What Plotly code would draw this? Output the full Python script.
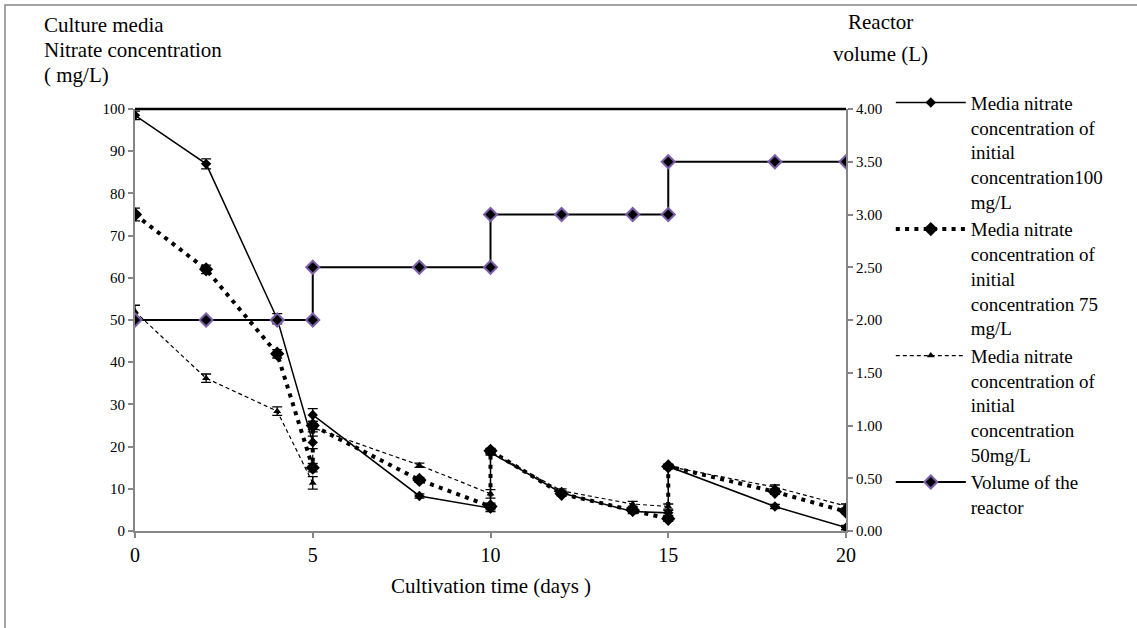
import plotly.graph_objects as go

days = [0, 2, 4, 5, 5, 8, 10, 10, 12, 14, 15, 15, 18, 20]
nitrate_100 = [98.5, 87, 50.3, 21, 27.5, 8.3, 5.4, 18.6, 9.0, 4.6, 4.3, 15.3, 5.8, 0.8]
nitrate_75 = [75, 62, 42, 15, 25, 12.1, 5.8, 19.0, 8.8, 5.0, 2.9, 15.3, 9.3, 4.6]
nitrate_50 = [52, 36.2, 28.4, 11.4, 24.5, 15.6, 8.8, 18.8, 9.5, 6.4, 5.8, 15.3, 10.4, 5.9]
err_100 = [1.0, 1.2, 1.2, 1.5, 1.5, 0.5, 0.8, 0.6, 0.5, 0.5, 0.6, 0.5, 0.5, 0.5]
err_75 = [1.5, 1.0, 1.0, 1.0, 1.0, 0.6, 0.8, 0.6, 0.5, 0.5, 0.6, 0.5, 0.6, 0.5]
err_50 = [1.5, 1.0, 1.0, 1.5, 1.0, 0.5, 1.0, 0.6, 0.5, 0.6, 0.6, 0.5, 0.5, 0.5]
volume = [2.0, 2.0, 2.0, 2.0, 2.5, 2.5, 2.5, 3.0, 3.0, 3.0, 3.0, 3.5, 3.5, 3.5]

left_ticks = list(range(0, 101, 10))
right_ticks = [0, 0.5, 1.0, 1.5, 2.0, 2.5, 3.0, 3.5, 4.0]
x_ticks = [0, 5, 10, 15, 20]

names = [
    "Media nitrate<br>concentration of<br>initial<br>concentration100<br>mg/L",
    "Media nitrate<br>concentration of<br>initial<br>concentration 75<br>mg/L",
    "Media nitrate<br>concentration of<br>initial<br>concentration<br>50mg/L",
    "Volume of the<br>reactor",
]
left_title_lines = ["Culture media", "Nitrate concentration", "( mg/L)"]
right_title_lines = ["Reactor", "volume (L)"]
x_title = "Cultivation time (days )"

FONT = "Liberation Serif"
GRAY = "#868686"
PURPLE = "#7b5ea7"

fig = go.Figure()

def eb(arr):
    return dict(type="data", array=arr, visible=True, color="black", thickness=1.3, width=5)

fig.add_trace(go.Scatter(
    x=days, y=nitrate_100, name=names[0], mode="lines+markers",
    line=dict(color="black", width=1.5),
    marker=dict(symbol="diamond", size=8, color="black"),
    error_y=eb(err_100),
))
fig.add_trace(go.Scatter(
    x=days, y=nitrate_75, name=names[1], mode="lines+markers",
    line=dict(color="black", width=4, dash="4px,5.3px"),
    marker=dict(symbol="diamond", size=11, color="black"),
    error_y=eb(err_75),
))
fig.add_trace(go.Scatter(
    x=days, y=nitrate_50, name=names[2], mode="lines+markers",
    line=dict(color="black", width=1.2, dash="4px,3px"),
    marker=dict(symbol="triangle-up", size=7, color="black"),
    error_y=eb(err_50),
))
fig.add_trace(go.Scatter(
    x=days, y=volume, name=names[3], mode="lines+markers", yaxis="y2",
    line=dict(color="black", width=2),
    marker=dict(symbol="diamond", size=10, color="black", line=dict(color=PURPLE, width=2)),
))

# plot area: left 135, right 846, top 109, bottom 531 (px)
L, R, T, B = 135, 846, 109, 531
def px_x(p):
    return (p - L) / (R - L)
def px_y(p):
    return (B - p) / (B - T)

annotations = []
for i, t in enumerate(left_title_lines):
    annotations.append(dict(text=t, xref="paper", yref="paper", x=px_x(42), y=px_y(25 + 25 * i),
                            xanchor="left", yanchor="middle", align="left", showarrow=False,
                            font=dict(family=FONT, size=21)))
for t, yy in zip(right_title_lines, [22, 54]):
    annotations.append(dict(text=t, xref="paper", yref="paper", x=px_x(880), y=px_y(yy),
                            xanchor="center", yanchor="middle", align="center", showarrow=False,
                            font=dict(family=FONT, size=21)))
annotations.append(dict(text=x_title, xref="paper", yref="paper", x=0.5, y=px_y(586),
                        xanchor="center", yanchor="middle", showarrow=False,
                        font=dict(family=FONT, size=21)))

fig.update_layout(
    width=1137, height=628,
    margin=dict(l=L, r=1137 - R, t=T, b=628 - B),
    paper_bgcolor="white", plot_bgcolor="white",
    font=dict(family=FONT, size=15, color="black"),
    showlegend=True,
    legend=dict(
        x=1.063, y=1.06, xanchor="left", yanchor="top",
        font=dict(family=FONT, size=19, color="black"),
        valign="top", itemwidth=70, tracegroupgap=0, maxheight=600,
        bgcolor="rgba(0,0,0,0)",
    ),
    xaxis=dict(
        range=[0, 20], tickvals=x_ticks, ticktext=[str(v) for v in x_ticks],
        showgrid=False, zeroline=False, showline=True, linecolor=GRAY, linewidth=2,
        ticks="outside", ticklen=5, tickcolor=GRAY, tickwidth=1.5,
        tickfont=dict(family=FONT, size=20), fixedrange=True,
    ),
    yaxis=dict(
        range=[0, 100], tickvals=left_ticks, ticktext=[str(v) for v in left_ticks],
        showgrid=False, zeroline=False, showline=True, linecolor=GRAY, linewidth=2,
        ticks="outside", ticklen=5, tickcolor=GRAY, tickwidth=1.5,
        tickfont=dict(family=FONT, size=15),
    ),
    yaxis2=dict(
        range=[0, 4], overlaying="y", side="right",
        tickvals=right_ticks, ticktext=[f"{v:.2f}" for v in right_ticks],
        showgrid=False, zeroline=False, showline=True, linecolor=GRAY, linewidth=2,
        ticks="outside", ticklen=5, tickcolor=GRAY, tickwidth=1.5,
        tickfont=dict(family=FONT, size=15),
    ),
    shapes=[
        dict(type="line", xref="paper", yref="paper", x0=0, x1=1, y0=1, y1=1,
             line=dict(color="black", width=2.5)),
        dict(type="rect", xref="paper", yref="paper", x0=px_x(5), x1=px_x(1145), y0=px_y(640), y1=px_y(5),
             line=dict(color=GRAY, width=1.5), layer="below"),
    ],
    annotations=annotations,
)

fig.write_html("out.html")
